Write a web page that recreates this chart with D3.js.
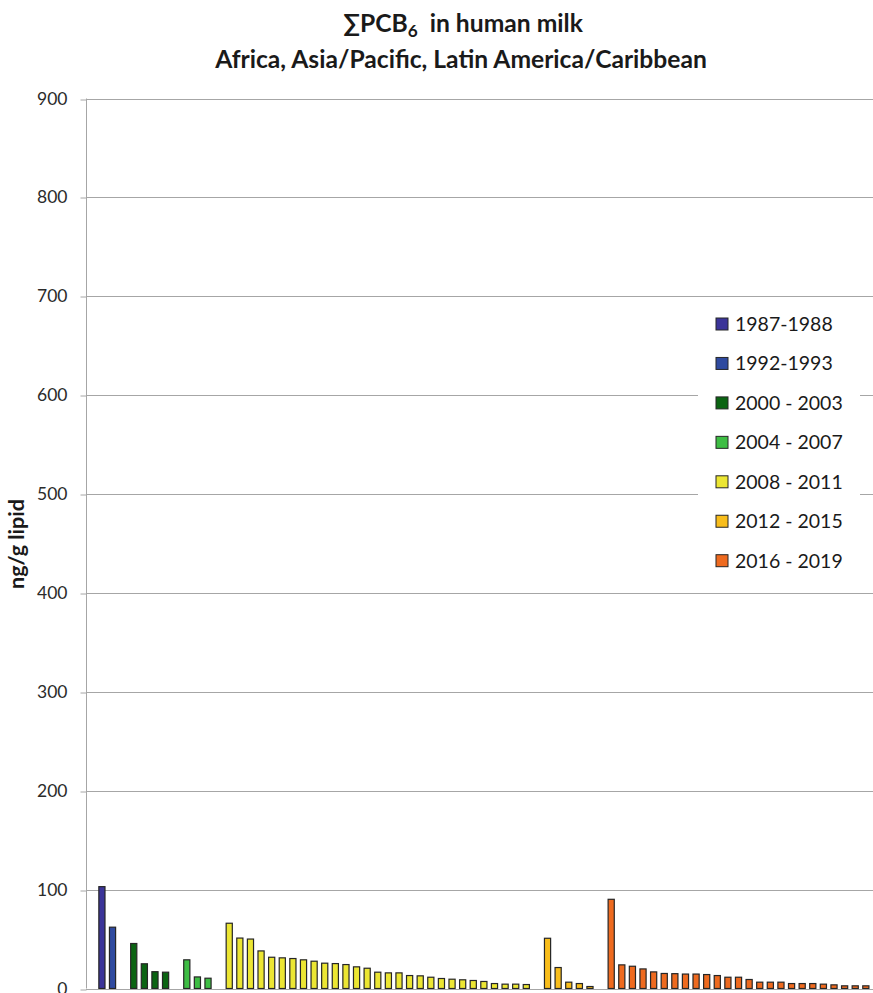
<!DOCTYPE html>
<html><head><meta charset="utf-8">
<script src="https://cdn.jsdelivr.net/npm/d3@7"></script>
<style>
html,body{margin:0;padding:0;background:#fff;}
svg{display:block;font-family:Lato,"Open Sans",sans-serif;}
</style></head>
<body>
<svg id="chart" width="873" height="993"></svg>
<script>
// ---- data ----
const periods = ["1987-1988","1992-1993","2000 - 2003","2004 - 2007","2008 - 2011","2012 - 2015","2016 - 2019"];
const colors  = ["#3b3499","#2f4a9f","#0b6412","#3ebd44","#ece633","#f8bd1b","#ee6a1f"];
const v1987 = [103];
const v1992 = [62];
const v2000 = [45.5, 25, 17, 16.5];
const v2004 = [29, 11.7, 10.4];
const v2008 = [66, 51, 50, 38, 31.6, 31, 30.3, 29, 27.6, 25.6, 25.2, 24.2, 21.9, 20.5, 16.5, 15.8, 15.8, 13.1, 12.8, 11.4, 10.1, 9.4, 8.8, 8.1, 7.1, 5.0, 4.4, 4.4, 4.0];
const v2012 = [50.8, 21.2, 6.4, 5.0, 2.0];
const v2016 = [90.2, 23.9, 22.5, 19.8, 16.8, 15.2, 15.0, 14.6, 14.6, 14.1, 13.1, 11.4, 11.4, 9.1, 6.4, 6.4, 6.4, 5.0, 5.0, 5.0, 4.4, 3.7, 2.7, 2.7, 2.7];
const yTicks = [0,100,200,300,400,500,600,700,800,900];
const titleLine1 = ["∑PCB", "6", "  in human milk"];
const titleLine2 = "Africa, Asia/Pacific, Latin America/Caribbean";
const yLabel = "ng/g lipid";

(function(){
const groups = [v1987, v1992, v2000, v2004, v2008, v2012, v2016];
const gapAfter = [false, true, true, true, true, true, false];

const slots = ["lead"];
const bars = [];
groups.forEach((g, gi) => {
  g.forEach((v, j) => {
    const key = "p" + gi + "_" + j;
    slots.push(key);
    bars.push({key, value: v, period: gi});
  });
  if (gapAfter[gi]) slots.push("gap" + gi);
});

const svg = d3.select("#chart");
const pLeft = 86, pTop = 98.5, pBottom = 988.5, svgW = 873;
const step = 10.61;

const x = d3.scaleBand().domain(slots)
  .range([pLeft, pLeft + slots.length * step])
  .paddingInner(0.42).paddingOuter(0.21);
const y = d3.scaleLinear().domain([0, 900]).range([pBottom, pTop]);

// gridlines
svg.append("g").selectAll("line").data(yTicks).join("line")
  .attr("x1", pLeft).attr("x2", svgW)
  .attr("y1", d => Math.round(y(d)) + 0.5).attr("y2", d => Math.round(y(d)) + 0.5)
  .attr("stroke", "#a6a6a6").attr("stroke-width", 1);

// y axis
const yAxis = d3.axisLeft(y).tickValues(yTicks).tickSize(6).tickPadding(13);
const ga = svg.append("g").attr("transform", `translate(${pLeft + 0.5},0)`).call(yAxis);
ga.select(".domain").attr("stroke", "#a6a6a6").attr("d", `M0,${pTop}V${pBottom}`);
ga.selectAll(".tick line").attr("stroke", "#a6a6a6")
  .attr("transform", d => `translate(0,${Math.round(y(d)) + 0.5 - y(d)})`);
ga.selectAll(".tick text").attr("font-family", "Lato, sans-serif").attr("font-size", 17.5)
  .attr("fill", "#2b2b2b");

// bars
svg.append("g").selectAll("rect").data(bars).join("rect")
  .attr("x", d => x(d.key))
  .attr("width", x.bandwidth())
  .attr("y", d => y(d.value))
  .attr("height", d => pBottom - y(d.value))
  .attr("fill", d => colors[d.period])
  .attr("stroke", "#262626").attr("stroke-width", 1.2);

svg.append("line").attr("x1", pLeft).attr("x2", svgW)
  .attr("y1", Math.round(pBottom) + 0.5).attr("y2", Math.round(pBottom) + 0.5)
  .attr("stroke", "#a6a6a6");

// title
const t1 = svg.append("text").attr("x", 463).attr("y", 31.5)
  .attr("text-anchor", "middle").attr("font-weight", "bold").attr("fill", "#1a1a1a")
  .attr("font-family", "Lato, sans-serif").style("white-space", "pre");
t1.append("tspan").text(titleLine1[0]);
t1.append("tspan").text(titleLine1[1]).attr("dy", 5).attr("font-size", "0.7em");
t1.append("tspan").text(titleLine1[2]).attr("dy", -5);
const t2 = svg.append("text").attr("x", 461).attr("y", 67.5)
  .attr("text-anchor", "middle").attr("font-weight", "bold").attr("fill", "#1a1a1a")
  .attr("font-family", "Lato, sans-serif").text(titleLine2);
t2.attr("font-size", 20);
const w2 = t2.node().getComputedTextLength();
const fs = 20 * 492 / w2;
t2.attr("font-size", fs);
t1.attr("font-size", fs);

// y label, sized to the reference length
const yl = svg.append("text").attr("transform", "translate(24,544) rotate(-90)")
  .attr("text-anchor", "middle").attr("font-weight", "bold").attr("font-size", 20)
  .attr("fill", "#1a1a1a").attr("font-family", "Lato, sans-serif").text(yLabel);
const wl = yl.node().getComputedTextLength();
yl.attr("font-size", Math.min(22, 20 * 90 / wl));

// legend
const legY0 = 324, legDy = 39.45;
const lg = svg.append("g");
lg.append("rect").attr("x", 698).attr("y", 305).attr("width", 162).attr("height", 276).attr("fill", "#fff");
const items = lg.selectAll("g.item").data(periods).join("g").attr("class", "item")
  .attr("transform", (d, i) => `translate(716,${legY0 + i * legDy})`);
items.append("rect").attr("x", 0).attr("y", -6).attr("width", 12).attr("height", 12)
  .attr("fill", (d, i) => colors[i]).attr("stroke", "#262626").attr("stroke-width", 1);
items.append("text").attr("x", 19).attr("y", 0).attr("dy", "0.35em")
  .attr("font-size", 19.5).attr("fill", "#1a1a1a").attr("font-family", "Lato, sans-serif")
  .text(d => d);
})();
</script>
</body></html>
